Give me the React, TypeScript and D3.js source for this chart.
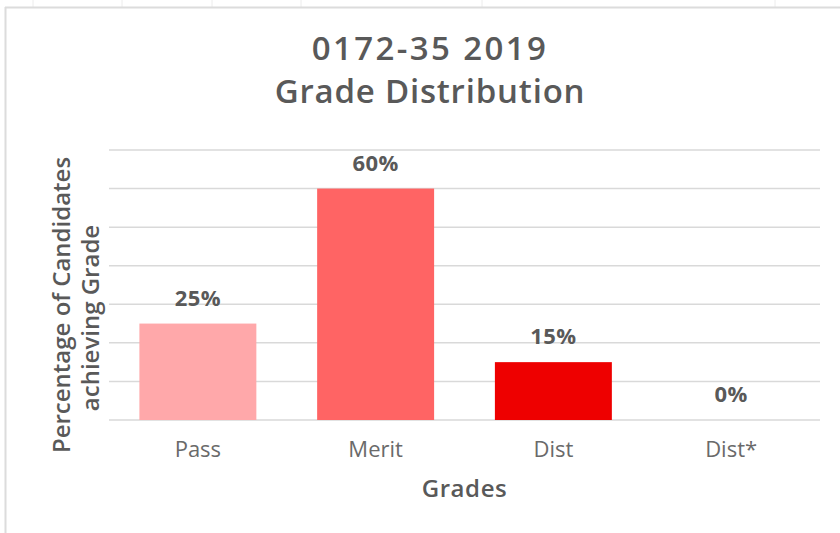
import React from "react";
import * as d3 from "d3";

const categories = ["Pass", "Merit", "Dist", "Dist*"];
const values = [25, 60, 15, 0];
const barColors = ["#FFA8AA", "#FF6464", "#EE0000", "#EE0000"];
const yTicks = [0, 10, 20, 30, 40, 50, 60, 70];
const titleLines = ["0172-35 2019", "Grade Distribution"];
const titleSpacing = [2.4, 0.8];
const yTitleLines = ["Percentage of Candidates", "achieving Grade"];
const xTitle = "Grades";
const sheetTicks = [33, 122, 212, 301, 482, 775];

const W = 840;
const H = 533;
const plot = { left: 109, right: 820, top: 150, bottom: 420 };
const font = "'Open Sans', Lato, sans-serif";
const textColor = "#595959";

export default function App() {
  const x = d3
    .scaleBand<string>()
    .domain(categories)
    .range([plot.left, plot.right])
    .paddingInner(0.342)
    .paddingOuter(0.171);
  const y = d3.scaleLinear().domain([0, 70]).range([plot.bottom, plot.top]);

  return (
    <svg
      width={W}
      height={H}
      style={{ position: "absolute", left: 0, top: 0, background: "#fff" }}
    >
      <rect x={0} y={0} width={W} height={H} fill="#fff" />
      {/* sheet frame */}
      {sheetTicks.map((t) => (
        <line key={t} x1={t} x2={t} y1={0} y2={7} stroke="#ececec" strokeWidth={1} />
      ))}
      <line x1={5} x2={W} y1={7.5} y2={7.5} stroke="#dcdcdc" strokeWidth={2} />
      <line x1={5.5} x2={5.5} y1={7} y2={H} stroke="#dcdcdc" strokeWidth={2} />

      {/* title */}
      {titleLines.map((t, i) => (
        <text
          key={t}
          x={430}
          y={60 + i * 43}
          textAnchor="middle"
          fontFamily={font}
          fontSize={33}
          fontWeight={600}
          letterSpacing={titleSpacing[i]}
          fill={textColor}
        >
          {t}
        </text>
      ))}

      {/* gridlines */}
      {yTicks.map((t) => (
        <line
          key={t}
          x1={plot.left}
          x2={plot.right}
          y1={y(t)}
          y2={y(t)}
          stroke="#d9d9d9"
          strokeWidth={1.5}
        />
      ))}

      {/* bars */}
      {categories.map((c, i) => (
        <rect
          key={c}
          x={x(c)}
          y={y(values[i])}
          width={x.bandwidth()}
          height={plot.bottom - y(values[i])}
          fill={barColors[i]}
        />
      ))}

      {/* data labels */}
      {categories.map((c, i) => (
        <text
          key={c}
          x={(x(c) as number) + x.bandwidth() / 2}
          y={y(values[i]) - 18}
          textAnchor="middle"
          fontFamily={font}
          fontSize={22}
          fontWeight={700}
          letterSpacing={0.4}
          fill={textColor}
        >
          {values[i]}%
        </text>
      ))}

      {/* category labels */}
      {categories.map((c) => (
        <text
          key={c}
          x={(x(c) as number) + x.bandwidth() / 2}
          y={457}
          textAnchor="middle"
          fontFamily={font}
          fontSize={22}
          fill="#6a6a6a"
        >
          {c}
        </text>
      ))}

      {/* x title */}
      <text
        x={(plot.left + plot.right) / 2}
        y={497}
        textAnchor="middle"
        fontFamily={font}
        fontSize={24}
        fontWeight={600}
        letterSpacing={0.6}
        fill={textColor}
      >
        {xTitle}
      </text>

      {/* y title */}
      {yTitleLines.map((t, i) => (
        <text
          key={t}
          transform={`translate(${70 + i * 29}, ${305 + i * 13}) rotate(-90)`}
          textAnchor="middle"
          fontFamily={font}
          fontSize={24}
          fontWeight={600}
          fill={textColor}
        >
          {t}
        </text>
      ))}
    </svg>
  );
}
